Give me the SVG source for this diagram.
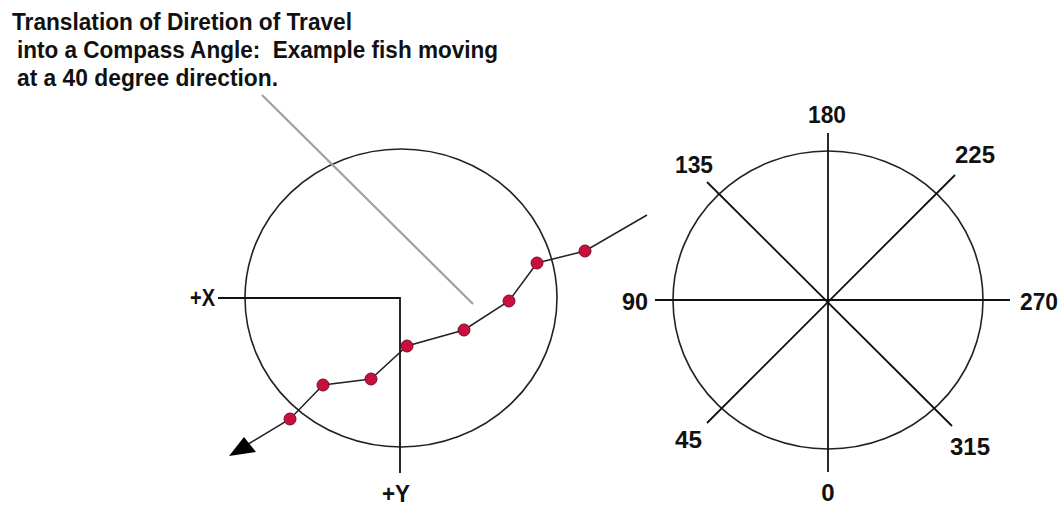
<svg xmlns="http://www.w3.org/2000/svg" width="1062" height="508" viewBox="0 0 1062 508">
<style>
.t{font-family:"Liberation Sans",Arial,sans-serif;font-weight:bold;fill:#111;white-space:pre}
.title{font-size:23px}
.lbl{font-size:24px}
.ring{fill:none;stroke:#222;stroke-width:1.6}
.ax{fill:none;stroke:#111;stroke-width:1.8}
.path{fill:none;stroke:#222;stroke-width:1.5}
.dot{fill:#c8103f;stroke:#7a0a25;stroke-width:1}
.ptr{stroke:#a0a0a0;stroke-width:2.2;fill:none}
</style>
<rect width="1062" height="508" fill="#ffffff"/>
<g id="title">
<text class="t title" x="12" y="30" textLength="340" lengthAdjust="spacingAndGlyphs">Translation of Diretion of Travel</text>
<text class="t title" x="17" y="58" textLength="481" lengthAdjust="spacingAndGlyphs">into a Compass Angle:  Example fish moving</text>
<text class="t title" x="17" y="86" textLength="261" lengthAdjust="spacingAndGlyphs">at a 40 degree direction.</text>
</g>
<g id="left-compass">
<ellipse class="ring" cx="401" cy="298" rx="156" ry="149"/>
<polyline class="ax" points="218,298 400,298 400,473"/>
<text class="t lbl" x="190" y="306" textLength="25" lengthAdjust="spacingAndGlyphs">+X</text>
<text class="t lbl" x="382" y="502" textLength="28" lengthAdjust="spacingAndGlyphs">+Y</text>
</g>
<g id="right-compass">
<ellipse class="ring" cx="828" cy="300" rx="155" ry="149"/>
<line class="ax" x1="828" y1="133" x2="828" y2="472"/>
<line class="ax" x1="655" y1="300" x2="1010" y2="300"/>
<line class="ax" x1="707" y1="182" x2="952" y2="426" stroke-width="1.5"/>
<line class="ax" x1="955" y1="175" x2="707" y2="423" stroke-width="1.5"/>
<text class="t lbl" x="827" y="123" text-anchor="middle" textLength="38" lengthAdjust="spacingAndGlyphs">180</text>
<text class="t lbl" x="675" y="173" textLength="38" lengthAdjust="spacingAndGlyphs">135</text>
<text class="t lbl" x="955" y="163" textLength="40" lengthAdjust="spacingAndGlyphs">225</text>
<text class="t lbl" x="622" y="310" textLength="26" lengthAdjust="spacingAndGlyphs">90</text>
<text class="t lbl" x="1020" y="310" textLength="38" lengthAdjust="spacingAndGlyphs">270</text>
<text class="t lbl" x="675" y="448" textLength="27" lengthAdjust="spacingAndGlyphs">45</text>
<text class="t lbl" x="950" y="455" textLength="40" lengthAdjust="spacingAndGlyphs">315</text>
<text class="t lbl" x="828" y="501" text-anchor="middle" font-size="22">0</text>
</g>
<g id="connectors">
<line class="ptr" x1="262" y1="95" x2="473" y2="304"/>
<polyline class="path" points="647,215 585,251 537,263 509,301 464,330 407,346 371,379 323,385 290,419 240,449"/>
<polygon points="229,456 244,437 256,452" fill="#000"/>
</g>
<g id="fish-positions">
<circle class="dot" cx="585" cy="251" r="6"/>
<circle class="dot" cx="537" cy="263" r="6"/>
<circle class="dot" cx="509" cy="301" r="6"/>
<circle class="dot" cx="464" cy="330" r="6"/>
<circle class="dot" cx="407" cy="346" r="6"/>
<circle class="dot" cx="371" cy="379" r="6"/>
<circle class="dot" cx="323" cy="385" r="6"/>
<circle class="dot" cx="290" cy="419" r="6"/>
</g>
</svg>
